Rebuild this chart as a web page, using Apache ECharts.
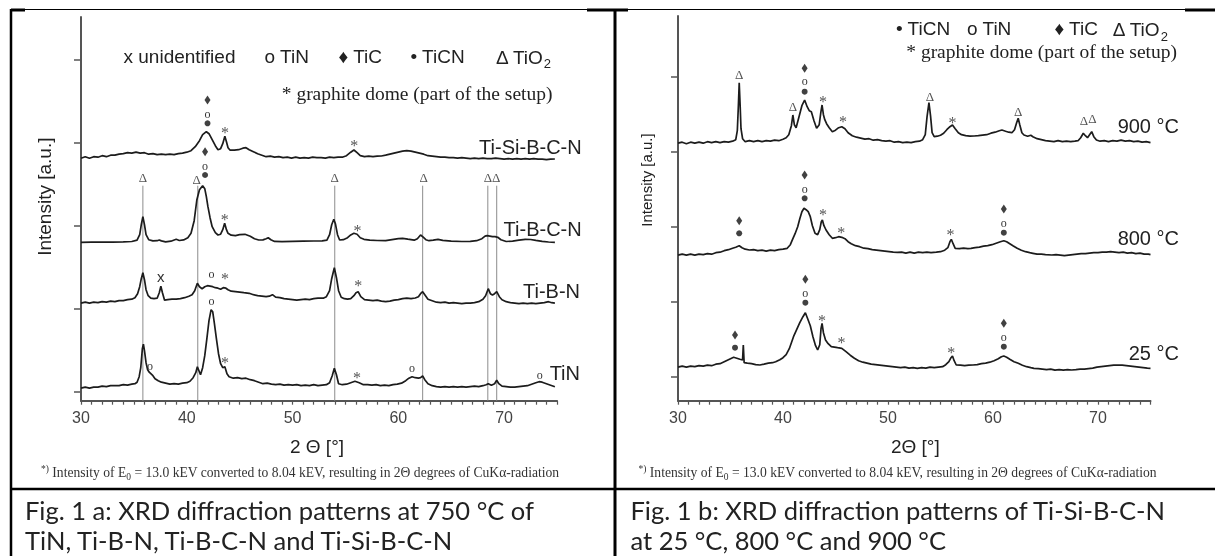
<!DOCTYPE html>
<html>
<head>
<meta charset="utf-8">
<script src="https://cdn.jsdelivr.net/npm/echarts@6/dist/echarts.min.js"></script>
<style>
html,body{margin:0;padding:0;background:#fff}
#main{width:1215px;height:556px;will-change:transform}
</style>
</head>
<body>
<div id="main"></div>
<script>
// intensities are in arbitrary units (offset traces), 2theta in degrees
var twoThetaTicks = [30, 40, 50, 60, 70];

// ---- Fig 1a: 750 °C ----
var tiN = [[30.0,12.5],[30.4,13.5],[30.8,12.5],[31.2,13.5],[31.6,13.5],[32.0,14.5],[32.4,14],[32.8,15],[33.2,15],[33.6,15],[34.0,16],[34.4,15.5],[34.8,16.5],[35.1,17],[35.3,18.5],[35.5,24],[35.65,33],[35.8,52],[35.9,56.5],[36.0,50],[36.15,38],[36.3,31],[36.45,28.5],[36.6,27],[36.8,25],[37.0,22],[37.3,20],[37.6,18.5],[38.0,17.5],[38.4,16.5],[38.8,17],[39.2,16.5],[39.6,17.5],[40.0,18],[40.3,19.5],[40.6,23],[40.85,28],[41.0,34],[41.15,30],[41.3,26],[41.5,33],[41.7,45],[41.9,62],[42.1,80],[42.3,91],[42.45,89],[42.6,78],[42.8,62],[43.0,47],[43.2,37],[43.4,33],[43.6,34],[43.8,27],[44.0,24],[44.4,22.5],[44.8,23],[45.2,22],[45.6,22.5],[46.0,21],[46.4,20],[46.8,18.5],[47.2,17],[47.6,17.5],[48.0,16.5],[48.4,16],[48.8,16.5],[49.2,15.5],[49.6,16],[50.0,15.5],[50.4,16],[50.8,15],[51.2,15.5],[51.6,15],[52.0,16],[52.4,15],[52.8,15.5],[53.2,16],[53.5,18],[53.75,25],[53.95,32.4],[54.15,26],[54.35,17],[54.7,16],[55.1,16.5],[55.5,18],[55.9,19.5],[56.3,18],[56.7,16],[57.1,16],[57.5,15.5],[57.9,16],[58.3,15],[58.7,15.5],[59.1,15],[59.5,16],[59.9,16.5],[60.3,17.5],[60.7,20],[61.0,22.5],[61.3,24],[61.6,23],[61.9,22.5],[62.1,23],[62.3,24.7],[62.5,21],[62.8,17],[63.2,15],[63.6,14],[64.0,13.5],[64.4,14],[64.8,13.5],[65.2,14],[65.6,13.5],[66.0,14],[66.4,13.5],[66.8,14],[67.2,14.5],[67.6,14],[68.0,15],[68.3,16],[68.5,17],[68.8,15.5],[69.1,17],[69.3,20.5],[69.5,17],[69.8,14.5],[70.2,14],[70.6,13.5],[71.0,13.5],[71.4,14],[71.8,14.5],[72.2,15],[72.6,16.5],[73.0,18],[73.3,19],[73.6,18.5],[74.0,17],[74.4,15.5],[74.8,14]];

var tiBN = [[30.0,97.5],[30.4,98.5],[30.8,97.5],[31.2,98.5],[31.6,98],[32.0,99],[32.4,98.5],[32.8,99.5],[33.2,99],[33.6,100],[34.0,100],[34.4,101],[34.8,101.5],[35.1,103],[35.35,107],[35.55,114],[35.7,122],[35.85,128],[36.0,121],[36.15,111],[36.35,105],[36.6,102.5],[36.9,102],[37.2,102.5],[37.4,108],[37.55,114.5],[37.7,108],[37.9,100.5],[38.2,101],[38.6,101.5],[39.0,101.5],[39.4,102],[39.8,103],[40.2,104.5],[40.5,106],[40.75,110],[41.0,117.4],[41.2,114],[41.45,112],[41.7,114],[41.95,115],[42.2,114.5],[42.45,114],[42.7,113],[42.95,112.5],[43.2,111.5],[43.45,113],[43.7,112.5],[43.9,111],[44.2,109.5],[44.6,109],[45.0,108.5],[45.4,108],[45.9,107.4],[46.3,106],[46.7,105],[47.1,104.5],[47.5,104],[47.8,104.5],[48.1,106],[48.4,103.5],[48.8,103],[49.2,102],[49.6,101.5],[50.0,101],[50.4,100.5],[50.8,101],[51.2,101.5],[51.6,101],[52.0,102],[52.4,102.5],[52.9,102.5],[53.2,104],[53.5,110],[53.7,122],[53.95,133],[54.15,123],[54.35,110],[54.6,103.5],[54.9,102],[55.2,101.5],[55.5,102],[55.8,105],[56.0,108],[56.2,109],[56.45,104],[56.8,101],[57.2,100.5],[57.6,100],[58.0,100.5],[58.4,99.5],[58.8,99],[59.2,99.5],[59.6,100.5],[60.0,101],[60.4,102],[60.8,102.5],[61.2,102],[61.6,102.7],[61.9,104],[62.1,107],[62.3,109],[62.5,106],[62.8,101.5],[63.2,100],[63.6,98.5],[64.0,98],[64.4,98.5],[64.8,97.5],[65.2,98],[65.6,97.5],[66.0,97],[66.4,97.5],[66.8,97.5],[67.2,98],[67.6,99],[68.0,101.5],[68.25,105],[68.5,112],[68.7,107],[68.9,105.7],[69.1,107],[69.3,109],[69.55,104],[69.8,101],[70.2,99],[70.6,98],[71.0,97.5],[71.4,97],[71.8,97.5],[72.2,97],[72.6,97.5],[73.0,97],[73.4,97.5],[73.8,98],[74.2,99],[74.5,98],[74.8,97.5]];

var tiBCN = [[30.0,158.4],[31.0,158.6],[32.0,158.5],[33.0,158.6],[34.0,158.8],[34.8,159.2],[35.3,160.5],[35.55,166],[35.7,176],[35.85,184],[36.0,176],[36.15,166],[36.4,161],[36.8,159.8],[37.2,160],[37.4,160.7],[37.6,159.8],[38.0,158.8],[38.5,159.5],[39.0,161.4],[39.3,160.2],[39.7,160.8],[40.1,163],[40.4,167.4],[40.7,180],[40.95,200.7],[41.2,211],[41.5,215],[41.7,212],[41.85,204],[42.0,194],[42.2,183],[42.4,174],[42.7,168],[42.95,165.7],[43.2,166.5],[43.4,171],[43.58,177.4],[43.75,171],[43.9,167.4],[44.2,165.5],[44.6,165],[45.0,166],[45.5,166.4],[46.0,164.5],[46.4,162],[46.8,160.7],[47.2,160.8],[47.5,162],[47.7,163],[47.95,161],[48.3,159.3],[49.0,159],[50.0,159.4],[51.0,159.6],[52.0,159.7],[52.8,159.8],[53.25,160.5],[53.5,166],[53.7,176],[53.9,181.4],[54.05,177],[54.25,166],[54.45,160.7],[54.8,161],[55.2,163],[55.5,165.8],[55.8,167.4],[56.1,166.5],[56.4,163],[56.75,161.4],[57.3,160.5],[58.0,160.2],[58.8,160],[59.4,161],[60.0,162],[60.4,162.4],[60.9,161.5],[61.5,160.5],[61.8,162],[62.1,165.7],[62.35,163.5],[62.6,161],[62.9,160],[63.3,160.5],[63.75,161.4],[64.2,160.3],[65.0,159.5],[66.0,159.2],[66.8,159.3],[67.4,160],[67.9,162],[68.2,164.5],[68.4,165],[68.65,164.5],[68.9,164],[69.15,164],[69.4,163.4],[69.7,161],[70.2,159.2],[70.8,159.6],[71.4,160.5],[72.0,161.3],[72.5,161.2],[73.0,160.3],[73.6,159.3],[74.2,158.7],[74.8,158.4]];

var tiSiBCN = [[30.0,242.5],[30.4,244],[30.8,242.5],[31.2,244],[31.6,243.5],[32.0,245],[32.4,244],[32.8,245.5],[33.2,245.5],[33.6,246.5],[34.0,247],[34.4,248],[34.8,247.5],[35.2,248.5],[35.6,247.5],[36.0,248],[36.4,246.5],[36.8,247],[37.2,246],[37.6,246.5],[38.0,246],[38.4,246.5],[38.8,246],[39.2,247],[39.6,247.5],[40.0,248.5],[40.4,250],[40.8,254],[41.2,260],[41.5,266],[41.85,269],[42.1,267],[42.4,261],[42.7,255],[42.95,251],[43.2,252],[43.4,257],[43.6,264.5],[43.75,259],[43.9,253],[44.1,250.5],[44.5,250.5],[44.9,251],[45.3,252.5],[45.6,253],[45.9,251],[46.3,249],[46.7,247],[47.1,245.5],[47.5,244],[47.9,244.5],[48.3,243.5],[48.7,244],[49.1,243],[49.5,243.5],[49.9,242.5],[50.3,243.5],[50.7,242.5],[51.1,243],[51.5,242.5],[51.9,243.5],[52.3,243],[52.7,243],[53.1,242.5],[53.5,243.5],[53.9,243],[54.3,243.5],[54.7,243.5],[55.1,245],[55.5,248.5],[55.8,250.7],[56.1,248],[56.4,245],[56.8,244],[57.2,244.5],[57.6,244],[58.0,244.5],[58.4,244.7],[58.8,245.5],[59.2,246.5],[59.6,247.5],[60.0,248.5],[60.4,249.5],[60.8,250],[61.2,249.5],[61.6,248.5],[62.0,247.5],[62.4,246.5],[62.8,245],[63.2,244.5],[63.6,244],[64.0,243.5],[64.4,243.5],[64.8,243],[65.2,243],[65.6,242.5],[66.0,243],[66.4,242.5],[66.8,242],[67.2,242.5],[67.6,242],[68.0,242.5],[68.4,242],[68.8,242],[69.2,242.5],[69.6,242],[70.0,241.5],[70.4,242],[70.8,241.5],[71.2,242],[71.6,241.5],[72.0,242],[72.4,241.5],[72.8,242],[73.2,241.5],[73.6,241.5],[74.0,241],[74.4,241.5],[74.8,241.7]];

// TiO2 reference lines (2theta) and the height where they stop
var tio2Lines = [35.85, 41.04, 53.99, 62.3, 68.46, 69.3];
var tio2LineTop = 215;

// peak markers, [2theta, intensity]
var aDiamonds = [[41.96,300.7],[41.73,249]];
var aDots = [[41.96,277.4],[41.73,225.7]];
var aRings = [[41.96,287.7],[41.73,235.5],[42.33,128],[36.53,36],[42.33,100.5],[61.29,34],[73.36,26.7]];
var aStars = [[43.62,272.4],[55.83,259],[43.58,185.5],[56.13,174],[43.61,126],[56.2,119],[43.61,42.4],[56.09,27.4]];
var aDeltas = [[35.85,223.5],[40.93,221.5],[53.99,223.5],[62.39,223.5],[68.46,223.5],[69.26,223.5]];
var aCrosses = [[37.54,123]];

// ---- Fig 1b: Ti-Si-B-C-N ----
var t900 = [[30.0,257.5],[30.4,258.5],[30.8,257],[31.2,258.5],[31.6,257.5],[32.0,258.5],[32.4,257.5],[32.8,259],[33.2,258],[33.6,259],[34.0,258],[34.4,259],[34.8,258.5],[35.2,259.5],[35.5,261],[35.65,270],[35.75,295],[35.83,318],[35.92,295],[36.0,272],[36.15,262],[36.4,259],[36.8,260],[37.2,259],[37.6,260],[38.0,259],[38.4,260],[38.8,259.5],[39.2,260.5],[39.6,260],[40.0,261.5],[40.3,263],[40.55,266],[40.8,275],[40.94,285.7],[41.08,276],[41.25,273],[41.45,281],[41.6,287],[41.8,295],[42.06,300.7],[42.3,294],[42.5,290],[42.7,289],[42.95,280],[43.2,272.4],[43.45,276],[43.6,288],[43.72,295.7],[43.85,286],[43.98,281],[44.15,277],[44.4,273],[44.7,269],[45.0,270.5],[45.3,273],[45.6,274],[45.9,272],[46.2,268],[46.6,265],[47.0,263.5],[47.4,262.5],[47.8,261.5],[48.2,262],[48.6,260.5],[49.0,261],[49.4,260],[49.8,259.5],[50.2,260],[50.6,258.5],[51.0,259],[51.4,258],[51.8,258.5],[52.2,258],[52.6,259],[53.0,259.5],[53.3,261],[53.55,266],[53.72,284],[53.9,298],[54.05,285],[54.2,268],[54.4,264],[54.7,264.5],[55.0,265.5],[55.3,267.4],[55.6,271],[55.9,274],[56.14,275.7],[56.4,272],[56.7,268],[57.0,266],[57.4,265],[57.8,264.5],[58.2,264.7],[58.6,265],[59.0,265.5],[59.4,266],[59.8,267.5],[60.2,268.5],[60.6,270],[60.85,270.7],[61.2,269.5],[61.5,268.5],[61.8,268],[62.05,271],[62.25,278],[62.4,282.4],[62.55,276],[62.75,268],[62.95,265.7],[63.3,264.5],[63.6,265.5],[63.8,264],[64.2,262],[64.6,261],[65.0,260],[65.4,259.5],[65.8,259],[66.2,260],[66.6,259],[67.0,259.5],[67.4,259],[67.8,259.5],[68.1,260],[68.35,263],[68.6,267.4],[68.8,265],[69.0,263],[69.2,266],[69.4,269],[69.6,264],[69.85,260.7],[70.2,259.5],[70.6,260],[71.0,259],[71.4,260],[71.8,259.5],[72.2,260.5],[72.6,259.5],[73.0,260],[73.4,259],[73.8,259.5],[74.2,258.5],[74.6,259],[75.0,258]];

var t800 = [[30.0,145.5],[30.4,146.5],[30.8,145.5],[31.2,146.5],[31.6,145.5],[32.0,146.5],[32.4,146],[32.8,147],[33.2,146.5],[33.6,148],[34.0,148.5],[34.4,150],[34.8,151],[35.2,152.5],[35.5,153.5],[35.83,155],[36.1,153],[36.4,151.5],[36.8,150.7],[37.2,151],[37.6,150],[38.0,150.5],[38.4,149.5],[38.8,150.5],[39.2,150],[39.6,151],[40.0,151.5],[40.4,152.4],[40.7,156],[40.9,161],[41.15,167],[41.4,174],[41.6,182],[41.8,189],[42.0,192.4],[42.2,191],[42.4,189],[42.6,184],[42.8,175],[43.05,167.4],[43.3,166],[43.5,171],[43.65,179],[43.75,180.7],[43.9,175],[44.1,170.7],[44.4,166],[44.7,162.4],[45.0,163],[45.3,164],[45.6,163.4],[45.9,162],[46.2,159],[46.5,157],[46.9,155],[47.3,154],[47.7,152.5],[48.1,152],[48.5,151],[48.9,150.5],[49.3,150],[49.7,149.5],[50.1,149],[50.5,148.5],[50.9,148.4],[51.3,148.5],[51.7,147.5],[52.1,148.5],[52.5,147.5],[52.9,148.5],[53.3,148],[53.7,148.5],[54.1,148],[54.6,148.5],[55.0,149],[55.4,150.5],[55.7,153],[55.9,159],[56.03,161.4],[56.2,157],[56.4,152.4],[56.8,152],[57.2,152.5],[57.6,152],[57.9,152.4],[58.3,153],[58.7,153.5],[59.1,154.5],[59.5,155],[59.9,156],[60.3,157.5],[60.7,159],[61.03,160],[61.3,159],[61.6,157],[61.9,155],[62.3,152.4],[62.7,150.5],[63.1,149],[63.5,148],[63.8,147.4],[64.2,146.5],[64.6,146.5],[65.0,146],[65.6,145.7],[66.0,146],[66.4,145.5],[66.8,145],[67.2,145.5],[67.6,146],[68.0,146.5],[68.4,147],[68.8,147],[69.2,147.5],[69.6,148],[70.0,148],[70.4,148.5],[70.8,148.5],[71.2,149],[71.6,148.5],[72.0,148],[72.4,148.5],[72.8,147.5],[73.2,148],[73.6,147],[74.0,147.5],[74.4,146.5],[74.8,146.5],[75.0,146]];

var t25 = [[30.0,33.5],[30.4,34.5],[30.8,33.5],[31.2,34.5],[31.6,34],[32.0,35],[32.4,34.5],[32.8,35.5],[33.2,35],[33.6,36.5],[34.0,37],[34.4,39],[34.8,41],[35.1,42.5],[35.3,43.4],[35.6,42.5],[35.9,41.4],[36.15,40.7],[36.22,55.7],[36.3,38],[36.6,37.5],[37.0,37],[37.4,36],[37.8,35.7],[38.2,36.5],[38.6,37.5],[39.0,38],[39.3,39],[39.7,41],[40.0,43],[40.3,46],[40.6,52],[41.0,64],[41.3,71],[41.6,78],[41.9,84],[42.13,88],[42.35,82],[42.6,75],[42.85,64],[43.1,55],[43.3,50.7],[43.5,56],[43.62,72],[43.72,77.4],[43.85,68],[44.05,60.7],[44.3,57],[44.6,54],[44.9,53.5],[45.2,53],[45.6,52.4],[46.0,49],[46.4,45.5],[46.8,42.4],[47.2,40],[47.6,38.5],[48.0,37.5],[48.4,36.5],[48.8,36],[49.2,35.5],[49.6,35],[50.0,34.5],[50.4,34],[50.8,33.5],[51.2,33],[51.6,33.5],[52.0,32.5],[52.4,33],[52.8,32.4],[53.2,33],[53.6,32.5],[54.0,33.5],[54.4,33],[54.8,33.5],[55.2,34],[55.5,36],[55.8,39],[56.0,43],[56.14,44.7],[56.3,40],[56.5,35.7],[56.9,35.5],[57.3,35],[57.7,35.5],[58.1,35.7],[58.5,36],[58.9,37],[59.3,37.5],[59.7,38.5],[60.1,40],[60.5,42],[60.8,44],[61.03,44.7],[61.3,43.5],[61.6,41.5],[62.0,39],[62.4,37.4],[62.8,35.5],[63.2,34],[63.6,33],[63.9,32.4],[64.3,32],[64.7,31.5],[65.1,31],[65.5,31.5],[65.9,30.5],[66.3,31],[66.7,30.5],[67.1,31],[67.5,30.7],[67.9,31],[68.3,31.5],[68.7,31.5],[69.1,32],[69.5,32.5],[69.9,33.5],[70.3,34],[70.7,34.5],[71.1,35],[71.5,35.5],[71.9,35.7],[72.3,35.5],[72.7,35],[73.1,34.5],[73.5,34],[73.9,33.5],[74.3,33],[74.7,32.5],[75.0,32.4]];

var bDiamonds = [[42.06,332.4],[35.83,180],[42.06,225.7],[61.03,191.7],[35.43,65.7],[42.13,121.4],[61.03,77.4]];
var bDots = [[42.06,309],[35.83,167.4],[42.06,202.4],[61.03,168],[35.43,53],[42.13,98],[61.03,54]];
var bRings = [[42.06,320.7],[42.06,213],[61.03,179],[42.13,109],[61.03,64.7]];
var bStars = [[43.8,303],[45.72,283],[56.14,282.4],[43.8,190],[45.54,172.4],[55.95,170.7],[43.72,84.7],[45.58,62.4],[56.03,52.4]];
var bDeltas = [[35.83,326.7],[40.94,294],[53.99,304],[62.4,289],[68.67,280],[69.46,282.4]];

// y-axis tick positions (a.u.)
var aTicks = [8.7, 91.7, 174.7, 257.7, 340.7];
var bTicks = [23.7, 98.7, 173.7, 248.7, 323.7];

var SANS = '"Liberation Sans", Arial, "DejaVu Sans", sans-serif';
var SERIF = '"Liberation Serif", "Times New Roman", "DejaVu Serif", serif';
var CAP = 'Lato, "Open Sans", sans-serif';

var chart = echarts.init(document.getElementById('main'), null, {renderer: 'svg'});

function xAx(i) {
	return {
		type: 'value', gridIndex: i, min: 30, max: 75, interval: 1,
		axisLine: {lineStyle: {color: '#555', width: 2}},
		axisTick: {length: 4, lineStyle: {color: '#555', width: 1.2}},
		axisLabel: {
			margin: 9, color: '#444', fontSize: 16, fontFamily: SANS,
			formatter: function (v) { return twoThetaTicks.indexOf(v) >= 0 ? String(v) : ''; }
		},
		splitLine: {show: false}
	};
}
function yAx(i, max, ticks) {
	return {
		type: 'value', gridIndex: i, min: 0, max: max,
		axisLine: {show: true, lineStyle: {color: '#555', width: 2}},
		axisTick: {show: true, length: 7, customValues: ticks, lineStyle: {color: '#555', width: 1.5}},
		axisLabel: {show: false},
		splitLine: {show: false}
	};
}
function trace(i, data) {
	return {
		type: 'line', xAxisIndex: i, yAxisIndex: i, data: data, symbol: 'none',
		lineStyle: {color: '#1c1c1c', width: 1.7}, silent: true, z: 3
	};
}
// text marks placed at data coordinates
function glyphs(i, data, ch, size, font, color, dy) {
	return {
		type: 'custom', xAxisIndex: i, yAxisIndex: i, data: data, silent: true, z: 5,
		itemStyle: {color: color},
		renderItem: function (params, api) {
			var p = api.coord([api.value(0), api.value(1)]);
			return {type: 'text', x: p[0], y: p[1] + (dy || 0),
				style: {text: ch, fontSize: size, fontFamily: font, fill: color, align: 'center', verticalAlign: 'middle'}};
		}
	};
}
function shapes(i, data, sym, size) {
	return {
		type: 'scatter', xAxisIndex: i, yAxisIndex: i, data: data, symbol: sym,
		symbolSize: size, itemStyle: {color: '#111'}, silent: true, z: 5
	};
}

function txt(x, y, s, size, font, align, extra) {
	var o = {type: 'text', x: x, y: y, silent: true,
		style: {text: s, fontSize: size, fontFamily: font, fill: '#222', align: align || 'left', verticalAlign: 'middle'}};
	if (extra) { for (var k in extra) o[k] = extra[k]; }
	return o;
}
function seg(x1, y1, x2, y2, w) {
	return {type: 'line', silent: true, shape: {x1: x1, y1: y1, x2: x2, y2: y2}, style: {stroke: '#000', lineWidth: w}};
}
function tio2(x, y) {
	return {type: 'text', x: x, y: y, silent: true, style: {
		text: '{a|Δ TiO}{s|2}', align: 'left', verticalAlign: 'middle',
		rich: {
			a: {fontSize: 19, fontFamily: SANS, fill: '#222', lineHeight: 26},
			s: {fontSize: 13, fontFamily: SANS, fill: '#222', lineHeight: 26, verticalAlign: 'bottom'}
		}
	}};
}

var footRich = {
	m: {fontSize: 13.6, fontFamily: SERIF, fill: '#333', lineHeight: 18},
	sup: {fontSize: 9.5, fontFamily: SERIF, fill: '#333', verticalAlign: 'top', lineHeight: 18},
	sub: {fontSize: 9.5, fontFamily: SERIF, fill: '#333', verticalAlign: 'bottom', lineHeight: 18}
};
var footText = '{sup|*)}{m| Intensity of E}{sub|0}{m| = 13.0 kEV converted to 8.04 kEV, resulting in 2Θ degrees of CuKα-radiation}';

var graphics = [
	// page background (chart itself stays transparent)
	{type: 'rect', silent: true, z: -10, shape: {x: 0, y: 0, width: 1215, height: 556}, style: {fill: '#fff'}},
	// table frame
	seg(11, 9.5, 1215, 9.5, 1.2),
	seg(11, 10, 25, 10, 3), seg(587, 10, 628, 10, 3), seg(1185, 10, 1215, 10, 3),
	seg(11, 9, 11, 556, 2.5),
	seg(615, 9, 615, 556, 3),
	seg(11, 489, 1215, 489, 2.5),

	// left panel texts
	txt(123.5, 56, 'x unidentified', 19, SANS),
	txt(264.6, 56, 'o TiN', 19, SANS),
	txt(338.5, 56, '♦ TiC', 19, SANS),
	txt(410.5, 56, '• TiCN', 19, SANS),
	tio2(496, 57.2),
	txt(552.5, 93.5, '* graphite dome (part of the setup)', 19.5, SERIF, 'right'),
	txt(581.7, 146.7, 'Ti-Si-B-C-N', 20, SANS, 'right'),
	txt(581.7, 229.3, 'Ti-B-C-N', 20, SANS, 'right'),
	txt(580, 290.7, 'Ti-B-N', 20, SANS, 'right'),
	txt(580, 372.7, 'TiN', 20, SANS, 'right'),
	txt(44.7, 196.7, 'Intensity [a.u.]', 19, SANS, 'center', {rotation: Math.PI / 2}),
	txt(317, 446.7, '2 Θ [°]', 19, SANS, 'center'),
	{type: 'text', x: 41, y: 472.7, silent: true, style: {text: footText, rich: footRich, align: 'left', verticalAlign: 'middle'}},

	// right panel texts
	txt(896, 28.3, '• TiCN', 19, SANS),
	txt(967, 28.3, 'o TiN', 19, SANS),
	txt(1054.4, 28.3, '♦ TiC', 19, SANS),
	tio2(1112.8, 29.5),
	txt(1177, 51.7, '* graphite dome (part of the setup)', 19.5, SERIF, 'right'),
	txt(1179, 125.5, '900 °C', 20, SANS, 'right'),
	txt(1179, 238.3, '800 °C', 20, SANS, 'right'),
	txt(1179, 353.3, '25 °C', 20, SANS, 'right'),
	txt(646, 180, 'Intensity [a.u.]', 15, SANS, 'center', {rotation: Math.PI / 2}),
	txt(915.3, 446.7, '2Θ [°]', 19, SANS, 'center'),
	{type: 'text', x: 638.5, y: 472.7, silent: true, style: {text: footText, rich: footRich, align: 'left', verticalAlign: 'middle'}},

	// captions
	txt(25, 509.5, 'Fig. 1 a: XRD diffraction patterns at 750 °C of', 25.5, CAP),
	txt(25, 540, 'TiN, Ti-B-N, Ti-B-C-N and Ti-Si-B-C-N', 25.5, CAP),
	txt(630.5, 509.5, 'Fig. 1 b: XRD diffraction patterns of Ti-Si-B-C-N', 25.5, CAP),
	txt(630.5, 540, 'at 25 °C, 800 °C and 900 °C', 25.5, CAP)
];

var option = {
	animation: false,
	backgroundColor: 'transparent',
	grid: [
		{left: 81, top: 17, width: 476, height: 383.7},
		{left: 678, top: 16, width: 472.5, height: 384.7}
	],
	xAxis: [xAx(0), xAx(1)],
	yAxis: [yAx(0, 383.7, aTicks), yAx(1, 384.7, bTicks)],
	series: [
		{
			type: 'custom', xAxisIndex: 0, yAxisIndex: 0, silent: true, z: 1,
			itemStyle: {color: '#8c8c8c'},
			data: tio2Lines.map(function (x) { return [x, tio2LineTop]; }),
			renderItem: function (params, api) {
				var p1 = api.coord([api.value(0), 0]);
				var p2 = api.coord([api.value(0), api.value(1)]);
				return {type: 'line', shape: {x1: p1[0], y1: p1[1], x2: p2[0], y2: p2[1]}, style: {stroke: '#8c8c8c', lineWidth: 1}};
			}
		},
		trace(0, tiN), trace(0, tiBN), trace(0, tiBCN), trace(0, tiSiBCN),
		shapes(0, aDiamonds, 'diamond', [6, 9]),
		shapes(0, aDots, 'circle', 6),
		glyphs(0, aRings, 'o', 12, SERIF, '#333', 1),
		glyphs(0, aStars, '*', 16, SERIF, '#555', 4),
		glyphs(0, aDeltas, 'Δ', 13, SERIF, '#555', 0),
		glyphs(0, aCrosses, 'x', 15, SANS, '#333', -1),

		trace(1, t900), trace(1, t800), trace(1, t25),
		shapes(1, bDiamonds, 'diamond', [6, 9]),
		shapes(1, bDots, 'circle', 6),
		glyphs(1, bRings, 'o', 12, SERIF, '#333', 1),
		glyphs(1, bStars, '*', 16, SERIF, '#555', 4),
		glyphs(1, bDeltas, 'Δ', 13, SERIF, '#555', 0)
	],
	graphic: graphics
};
chart.setOption(option);
</script>
</body>
</html>
